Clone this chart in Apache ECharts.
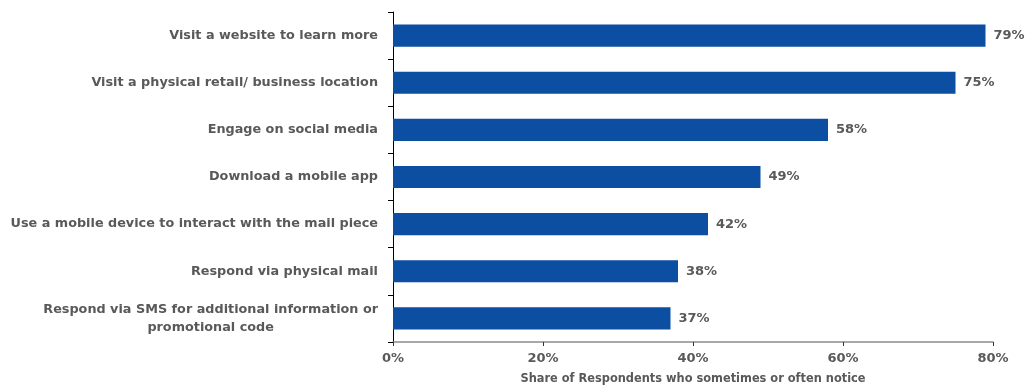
<!DOCTYPE html>
<html><head><meta charset="utf-8">
<script src="https://cdn.jsdelivr.net/npm/echarts@6/dist/echarts.min.js"></script>
<style>html,body{margin:0;padding:0;background:#fff}#c{width:1032px;height:386px}</style>
</head><body><div id="c"></div>
<script>
const categories = [
  "Visit a website to learn more",
  "Visit a physical retail/ business location",
  "Engage on social media",
  "Download a mobile app",
  "Use a mobile device to interact with the mail piece",
  "Respond via physical mail",
  "Respond via SMS for additional information or\npromotional code"
];
const values = [79, 75, 58, 49, 42, 38, 37];
const xTicks = [0, 20, 40, 60, 80];
const xTitle = "Share of Respondents who sometimes or often notice";

const font = "'DejaVu Sans', 'Noto Sans', sans-serif";
const grey = '#595959';
const chart = echarts.init(document.getElementById('c'), null, {renderer: 'canvas'});
chart.setOption({
  animation: false,
  grid: {left: 393, right: 39, top: 12, bottom: 44, containLabel: false, outerBoundsMode: 'none'},
  xAxis: {
    type: 'value', min: xTicks[0], max: xTicks[xTicks.length - 1], interval: 20,
    splitLine: {show: false},
    axisLine: {show: true, lineStyle: {color: '#8c8c8c', width: 1.5}},
    axisTick: {show: true, length: 4, lineStyle: {color: '#333'}},
    axisLabel: {formatter: v => v + '%', color: grey, fontFamily: font, fontWeight: 'bold', fontSize: 13, margin: 10},
    name: xTitle, nameLocation: 'middle', nameGap: 32,
    nameTextStyle: {color: grey, fontFamily: font, fontWeight: 'bold', fontSize: 11.4}
  },
  yAxis: {
    type: 'category', data: categories, inverse: true,
    axisLine: {show: true, lineStyle: {color: '#000', width: 1}},
    axisTick: {show: true, length: 5, lineStyle: {color: '#000'}},
    axisLabel: {
      color: grey, fontFamily: font, fontWeight: 'bold', fontSize: 12.8, margin: 15,
      formatter: v => v.split('\n').map(s => '{c|' + s + '}').join('\n'),
      rich: {c: {align: 'center', color: grey, fontFamily: font, fontWeight: 'bold', fontSize: 12.8, lineHeight: 18}}
    }
  },
  series: [{
    type: 'bar', data: values, barWidth: '47%',
    itemStyle: {color: '#0B4EA2'},
    label: {show: true, position: 'right', distance: 8, formatter: p => p.value + '%',
      color: grey, fontFamily: font, fontWeight: 'bold', fontSize: 13}
  }]
});
</script></body></html>
